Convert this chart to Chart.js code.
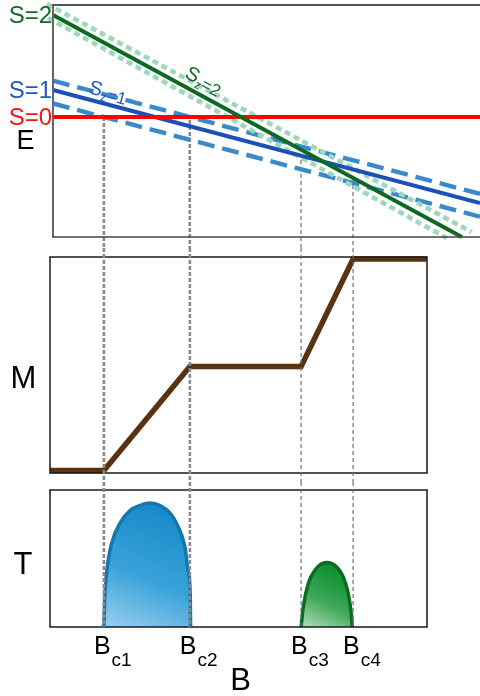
<!DOCTYPE html>
<html>
<head>
<meta charset="utf-8">
<script src="https://cdn.jsdelivr.net/npm/chart.js@4.4.0/dist/chart.umd.min.js"></script>
<style>
  html, body { margin: 0; padding: 0; background: #fff; overflow: hidden; }
  #wrap { position: relative; width: 480px; height: 696px; }
  canvas { position: absolute; left: 0; }
</style>
</head>
<body>
<div id="wrap">
  <canvas id="cE" width="480" height="248" style="top:0"></canvas>
  <canvas id="cM" width="480" height="234" style="top:248px"></canvas>
  <canvas id="cT" width="480" height="214" style="top:482px"></canvas>
</div>
<script>
// ---- critical fields (B, arbitrary units) ----
const critB      = [1.43, 3.71, 6.66, 8.04];
const critSub    = ['c1', 'c2', 'c3', 'c4'];
const critStartE = [0, -0.3, -4.3, -6.1];   // energy where each guide line begins

// ---- energy levels vs B (end points) ----
const s0B = [0.08, 11.41];       const s0E = [0, 0];
const s1B = [0.08, 11.41];       const s1E = [2.7, -8.6];
const s1hiB = [0.08, 11.41];     const s1hiE = [3.63, -7.69];
const s1loB = [0.08, 11.41];     const s1loE = [1.35, -9.97];
const s2B = [0.08, 10.93];       const s2E = [10.2, -12.0];
const s2hiB = [-0.08, 11.19];    const s2hiE = [11.3, -11.5];
const s2loB = [-0.05, 10.53];    const s2loE = [9.9, -12.1];

// ---- magnetisation plateaus ----
const magB = [0, 1.43, 3.71, 6.66, 8.04, 10];
const magM = [0, 0, 0.983, 0.983, 2, 2];

// ---- transport bumps ----
const bump1B = [1.43, 1.45, 1.50, 1.64, 1.86, 2.12, 2.39, 2.65, 2.92, 3.18, 3.40, 3.58, 3.66, 3.72, 3.73];
const bump1T = [0, 0.22, 0.435, 0.68, 0.84, 0.94, 0.98, 1.0, 0.98, 0.92, 0.81, 0.645, 0.46, 0.26, 0];
const bump2B = [6.66, 6.72, 6.85, 7.03, 7.34, 7.60, 7.78, 7.91, 7.98, 8.02];
const bump2T = [0, 0.164, 0.35, 0.46, 0.52, 0.486, 0.405, 0.27, 0.137, 0];

const FONT = '"Liberation Sans", Arial, Helvetica, sans-serif';
const pts = (xs, ys) => xs.map((x, i) => ({ x, y: ys[i] }));
const zeroW = s => { s.width = 0; };
const zeroH = s => { s.height = 0; };

function hiddenScales(xmin, xmax, ymin, ymax) {
  return {
    x: { type: 'linear', min: xmin, max: xmax, display: true,
         grid: { display: false, drawTicks: false }, border: { display: false },
         ticks: { display: false }, afterFit: zeroH },
    y: { type: 'linear', min: ymin, max: ymax, display: true,
         grid: { display: false, drawTicks: false }, border: { display: false },
         ticks: { display: false }, afterFit: zeroW }
  };
}

// frame around the plotting area
function framePlugin(sides) {
  return {
    id: 'frame',
    afterDatasetsDraw(chart) {
      const { ctx, chartArea: a } = chart;
      ctx.save();
      sides.forEach(s => {
        ctx.beginPath();
        ctx.strokeStyle = s.color; ctx.lineWidth = s.width;
        if (s.side === 'left')   { ctx.moveTo(a.left, a.top); ctx.lineTo(a.left, a.bottom); }
        if (s.side === 'right')  { ctx.moveTo(a.right, a.top); ctx.lineTo(a.right, a.bottom); }
        if (s.side === 'top')    { ctx.moveTo(a.left - s.width / 2, a.top); ctx.lineTo(a.right + s.width / 2, a.top); }
        if (s.side === 'bottom') { ctx.moveTo(a.left - s.width / 2, a.bottom); ctx.lineTo(a.right + s.width / 2, a.bottom); }
        ctx.stroke();
      });
      ctx.restore();
    }
  };
}

// dashed guide lines at the critical fields
function guideStyle(i) {
  return i < 2 ? { w: 2.6, c: '#8a8a8a', d: [4, 2] } : { w: 1.2, c: '#6f6f6f', d: [4, 3] };
}
function guidePlugin(hook, fromFn, toFn) {
  const p = { id: 'guides' };
  p[hook] = chart => {
    const { ctx } = chart;
    const sx = chart.scales.x;
    ctx.save();
    critB.forEach((b, i) => {
      const st = guideStyle(i);
      const px = sx.getPixelForValue(b);
      ctx.beginPath();
      ctx.setLineDash(st.d);
      ctx.strokeStyle = st.c; ctx.lineWidth = st.w;
      ctx.moveTo(px, fromFn(chart, i));
      ctx.lineTo(px, toFn(chart, i));
      ctx.stroke();
    });
    ctx.restore();
  };
  return p;
}

function subText(ctx, x, y, parts) {
  let cx = x;
  parts.forEach(p => {
    ctx.font = p.size + 'px ' + FONT;
    ctx.fillText(p.t, cx, y + (p.dy || 0));
    cx += ctx.measureText(p.t).width + (p.gap || 0);
  });
}

function line(xs, ys, color, width, dash, order) {
  return {
    data: pts(xs, ys), borderColor: color, borderWidth: width,
    borderDash: dash || [], pointRadius: 0, fill: false, tension: 0,
    clip: false, order, borderCapStyle: 'butt'
  };
}

const common = {
  responsive: false, animation: false, devicePixelRatio: 1,
  plugins: { legend: { display: false }, tooltip: { enabled: false } },
  events: []
};

// ================= E(B) panel =================
new Chart(document.getElementById('cE'), {
  type: 'line',
  data: {
    datasets: [
      line(s2B, s2E, '#0b6a1f', 4, null, 0),
      line(s0B, s0E, '#ff0000', 4.2, null, 1),
      line(s1B, s1E, '#1c4fb8', 4, null, 2),
      line(s2hiB, s2hiE, '#9dd8ba', 4.6, [6, 4], 3),
      line(s2loB, s2loE, '#9dd8ba', 4.6, [6, 4], 3),
      line(s1hiB, s1hiE, '#3a89cc', 4.4, [17, 8], 4),
      line(s1loB, s1loE, '#3a89cc', 4.4, [17, 8], 4)
    ]
  },
  options: {
    ...common,
    layout: { padding: { left: 53, right: 0, top: 5, bottom: 11 } },
    scales: hiddenScales(0.08, 11.41, -12, 11.2)
  },
  plugins: [
    guidePlugin('beforeDatasetsDraw',
      (c, i) => c.scales.y.getPixelForValue(critStartE[i]),
      c => c.height),
    framePlugin([
      { side: 'left', color: '#666', width: 2 },
      { side: 'top', color: '#555', width: 2 },
      { side: 'bottom', color: '#444', width: 1.6 }
    ]),
    {
      id: 'eLabels',
      afterDraw(chart) {
        const { ctx, chartArea: a } = chart;
        const sx = chart.scales.x, sy = chart.scales.y;
        ctx.save();
        ctx.textAlign = 'right'; ctx.textBaseline = 'middle';
        ctx.font = '24px ' + FONT;
        [[s2E[0], '#12692a', 'S=2'], [s1E[0], '#2456c4', 'S=1'], [s0E[0], '#ff1010', 'S=0']]
          .forEach(([e, col, t]) => {
            ctx.fillStyle = col;
            ctx.fillText(t, a.left - 1, sy.getPixelForValue(e) + 1);
          });
        ctx.textAlign = 'center';
        ctx.fillStyle = '#000';
        ctx.font = '27px ' + FONT;
        ctx.fillText('E', 25.5, 142);

        // S_z annotations laid along their lines
        ctx.textAlign = 'left'; ctx.textBaseline = 'alphabetic';
        const ang = (xs, ys) => Math.atan2(
          sy.getPixelForValue(ys[1]) - sy.getPixelForValue(ys[0]),
          sx.getPixelForValue(xs[1]) - sx.getPixelForValue(xs[0]));
        const tag = (b, e, a0, col, tail) => {
          ctx.save();
          ctx.translate(sx.getPixelForValue(b), sy.getPixelForValue(e));
          ctx.rotate(a0);
          ctx.fillStyle = col;
          subText(ctx, 0, 0, [
            { t: 'S', size: 20 },
            { t: 'z', size: 12, dy: 4 },
            { t: '=' + tail, size: 17, dy: 2 }
          ]);
          ctx.restore();
        };
        tag(1.0, 2.4, ang(s1hiB, s1hiE), '#2456c4', '1');
        tag(3.55, 4.0, ang(s2B, s2E), '#12692a', '2');
        ctx.restore();
      }
    }
  ]
});

// ================= M(B) panel =================
new Chart(document.getElementById('cM'), {
  type: 'line',
  data: {
    datasets: [{
      data: pts(magB, magM), borderColor: '#5b3210', borderWidth: 5.5,
      pointRadius: 0, fill: false, tension: 0, clip: false, borderJoinStyle: 'miter'
    }]
  },
  options: {
    ...common,
    layout: { padding: { left: 50, right: 53, top: 9, bottom: 9 } },
    scales: hiddenScales(0, 10, -0.024, 2.019)
  },
  plugins: [
    framePlugin([
      { side: 'left', color: '#1a1a1a', width: 1.5 },
      { side: 'right', color: '#1a1a1a', width: 1.5 },
      { side: 'top', color: '#1a1a1a', width: 1.5 },
      { side: 'bottom', color: '#1a1a1a', width: 1.5 }
    ]),
    guidePlugin('afterDatasetsDraw', () => 0, c => c.height),
    {
      id: 'mLabel',
      afterDraw(chart) {
        const { ctx } = chart;
        ctx.save();
        ctx.fillStyle = '#000'; ctx.textAlign = 'center'; ctx.textBaseline = 'middle';
        ctx.font = '31px ' + FONT;
        ctx.fillText('M', 23.5, 131);
        ctx.restore();
      }
    }
  ]
});

// ================= T(B) panel =================
function bumpFill(xs, ys, c0, c1, c2) {
  return context => {
    const chart = context.chart;
    if (!chart.chartArea) return c1;
    const sx = chart.scales.x, sy = chart.scales.y;
    const xl = sx.getPixelForValue(xs[0]);
    const xr = sx.getPixelForValue(xs[xs.length - 1]);
    const yt = sy.getPixelForValue(Math.max(...ys));
    const yb = sy.getPixelForValue(0);
    const g = chart.ctx.createLinearGradient((xl + xr) / 2 + (xr - xl) * 0.1, yt, xl, yb);
    g.addColorStop(0, c0); g.addColorStop(0.55, c1); g.addColorStop(1, c2);
    return g;
  };
}

new Chart(document.getElementById('cT'), {
  type: 'line',
  data: {
    datasets: [
      {
        data: pts(bump1B, bump1T), borderColor: '#1677ad', borderWidth: 3.5,
        backgroundColor: bumpFill(bump1B, bump1T, '#148ac8', '#3aa2da', '#98cfee'),
        fill: 'origin', pointRadius: 0, cubicInterpolationMode: 'monotone', clip: false
      },
      {
        data: pts(bump2B, bump2T), borderColor: '#0a6c21', borderWidth: 3.5,
        backgroundColor: bumpFill(bump2B, bump2T, '#068c2c', '#3fa85a', '#b4dcbc'),
        fill: 'origin', pointRadius: 0, cubicInterpolationMode: 'monotone', clip: false
      }
    ]
  },
  options: {
    ...common,
    layout: { padding: { left: 50, right: 53, top: 8, bottom: 69 } },
    scales: hiddenScales(0, 10, 0, 1.105)
  },
  plugins: [
    framePlugin([
      { side: 'left', color: '#1a1a1a', width: 1.5 },
      { side: 'right', color: '#1a1a1a', width: 1.5 },
      { side: 'top', color: '#1a1a1a', width: 1.5 },
      { side: 'bottom', color: '#1a1a1a', width: 1.5 }
    ]),
    guidePlugin('afterDatasetsDraw', () => 0, c => c.chartArea.bottom),
    {
      id: 'tLabels',
      afterDraw(chart) {
        const { ctx, chartArea: a } = chart;
        const sx = chart.scales.x;
        ctx.save();
        ctx.fillStyle = '#000';
        ctx.textAlign = 'center'; ctx.textBaseline = 'middle';
        ctx.font = '31px ' + FONT;
        ctx.fillText('T', 23, 83);
        ctx.fillText('B', 240.5, 199);
        ctx.textAlign = 'left'; ctx.textBaseline = 'alphabetic';
        critB.forEach((b, i) => {
          const px = sx.getPixelForValue(b);
          subText(ctx, px - 10, a.bottom + 27, [
            { t: 'B', size: 25, gap: 1 },
            { t: critSub[i], size: 19, dy: 12 }
          ]);
        });
        ctx.restore();
      }
    }
  ]
});
</script>
</body>
</html>
